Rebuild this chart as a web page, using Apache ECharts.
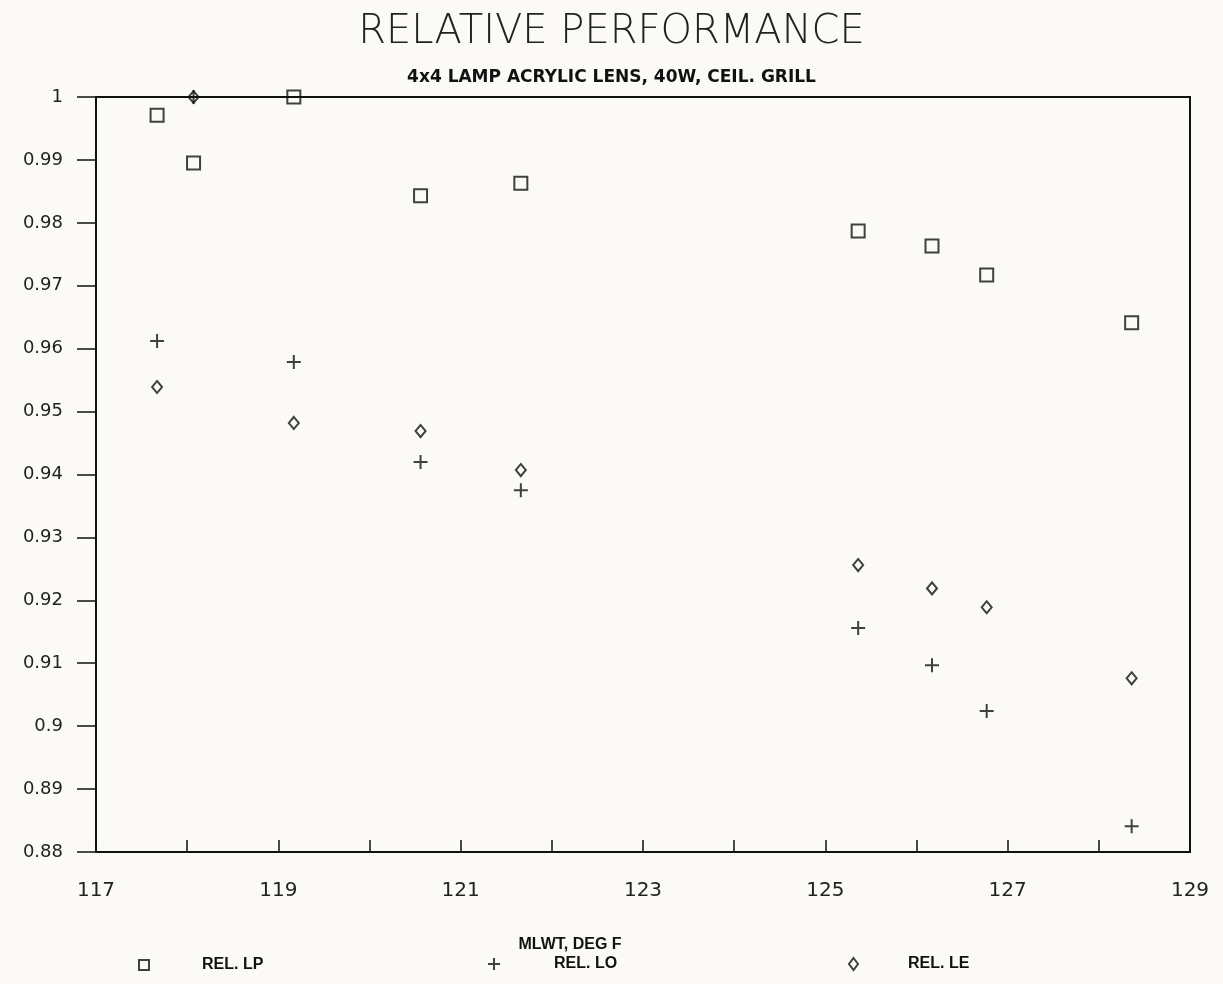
<!DOCTYPE html>
<html><head><meta charset="utf-8">
<script src="https://cdn.jsdelivr.net/npm/echarts@6/dist/echarts.min.js"></script>
<style>html,body{margin:0;padding:0;background:#fbfaf6;}#c{width:1223px;height:984px;}</style>
</head><body><div id="c"></div>
<script>
const xValues = [117.67, 118.07, 119.17, 120.56, 121.66, 125.36, 126.17, 126.77, 128.36];
const relLP = [0.9971, 0.9895, 1.0, 0.9843, 0.9863, 0.9787, 0.9763, 0.9717, 0.9641];
const relLO = [0.9612, 1.0, 0.9579, 0.9420, 0.9375, 0.9156, 0.9097, 0.9024, 0.8841];
const relLE = [0.9539, 1.0, 0.9482, 0.9469, 0.9407, 0.9256, 0.9219, 0.9189, 0.9076];
const seriesNames = ['REL. LP', 'REL. LO', 'REL. LE'];
const titleText = 'RELATIVE PERFORMANCE';
const subtitleText = '4x4 LAMP ACRYLIC LENS, 40W, CEIL. GRILL';
const xName = 'MLWT, DEG F';

const pairs = v => xValues.map((x, i) => [x, v[i]]);
const font = '"DejaVu Sans", "Liberation Sans", sans-serif';
const narrow = '"Liberation Sans Narrow", "Liberation Sans", sans-serif';
const plusPath = 'path://M0,5 L10,5 M5,0 L5,10';
const markStyle = {color: 'rgba(0,0,0,0)', borderColor: '#111', borderWidth: 2};
const legendText = {fontFamily: narrow, fontSize: 16, fontWeight: 'bold', color: '#111'};

const chart = echarts.init(document.getElementById('c'));
chart.setOption({
  backgroundColor: '#fbfaf6',
  animation: false,
  title: [
    {text: titleText, left: 'center', top: 8, textStyle: {fontFamily: font, fontSize: 40, fontWeight: 200, color: '#222'}},
    {text: subtitleText, left: 'center', top: 64, textStyle: {fontFamily: font, fontSize: 17, fontWeight: 'bold', color: '#111'}},
    {text: xName, left: 565, top: 932, textAlign: 'center', textStyle: legendText}
  ],
  legend: [
    {data: [seriesNames[0]], left: 133, top: 952, itemWidth: 10, itemHeight: 10, textStyle: Object.assign({padding: [0, 0, 0, 48]}, legendText)},
    {data: [seriesNames[1]], left: 482, top: 951, itemWidth: 12, itemHeight: 12, textStyle: Object.assign({padding: [0, 0, 0, 49]}, legendText)},
    {data: [seriesNames[2]], left: 843, top: 951, itemWidth: 9, itemHeight: 12, textStyle: Object.assign({padding: [0, 0, 0, 45]}, legendText)}
  ],
  grid: {left: 96, right: 33, top: 97, bottom: 132, show: true, borderColor: '#111', borderWidth: 2, backgroundColor: 'transparent'},
  xAxis: {
    type: 'value', min: 117, max: 129, interval: 1,
    axisLine: {lineStyle: {color: '#111', width: 2}},
    axisTick: {inside: true, length: 12, lineStyle: {color: '#111', width: 1.5}},
    axisLabel: {margin: 29, fontFamily: font, fontSize: 20, color: '#222', formatter: v => (Math.round(v) % 2 === 1 ? String(Math.round(v)) : '')},
    splitLine: {show: false}
  },
  yAxis: {
    type: 'value', min: 0.88, max: 1, interval: 0.01,
    axisLine: {lineStyle: {color: '#111', width: 2}},
    axisTick: {inside: false, length: 19, lineStyle: {color: '#111', width: 1.5}},
    axisLabel: {margin: 33, fontFamily: font, fontSize: 18, color: '#222', formatter: v => String(parseFloat(v.toFixed(2)))},
    splitLine: {show: false}
  },
  series: [
    {name: seriesNames[0], type: 'scatter', data: pairs(relLP), symbol: 'rect', symbolSize: 13, itemStyle: markStyle},
    {name: seriesNames[1], type: 'scatter', data: pairs(relLO), symbol: plusPath, symbolSize: 14, itemStyle: markStyle},
    {name: seriesNames[2], type: 'scatter', data: pairs(relLE), symbol: 'diamond', symbolSize: [10, 12], itemStyle: markStyle}
  ]
});
</script></body></html>
